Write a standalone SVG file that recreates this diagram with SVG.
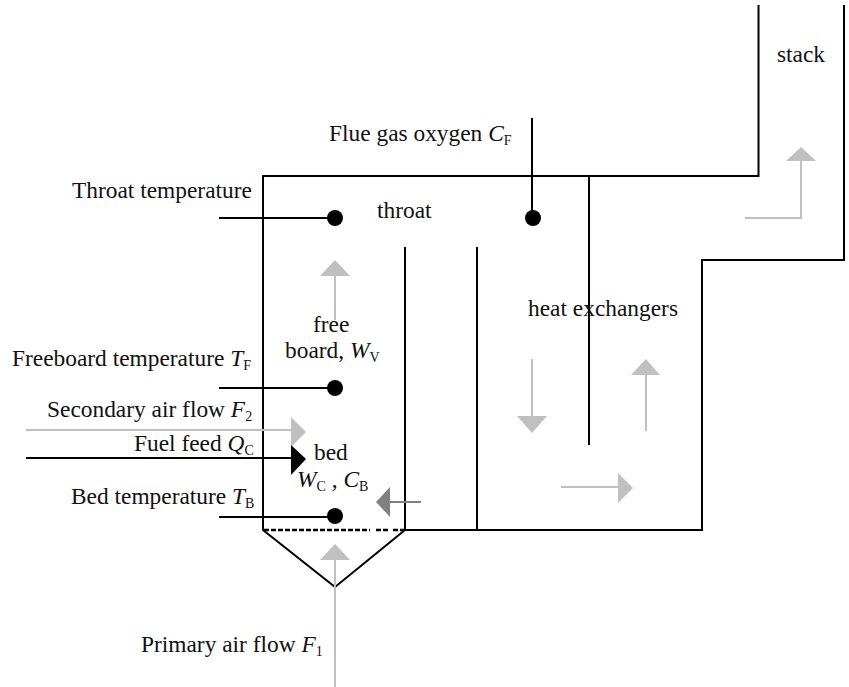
<svg xmlns="http://www.w3.org/2000/svg" width="849" height="687" viewBox="0 0 849 687">
<style>
text{font-family:"Liberation Serif","Times New Roman",serif;font-size:23.400px;fill:#111}
.s{font-size:14px}
.i{font-style:italic}
.w{fill:none;stroke:#000;stroke-width:2}
.d{fill:none;stroke:#000;stroke-width:2.500;stroke-dasharray:5 2}
.g{fill:none;stroke:#c0c0c0;stroke-width:2}
.h{fill:#c0c0c0}
</style>
<rect width="849" height="687" fill="#fff"/>
<g id="furnace">
<path class="w" d="M758.500 5V176H263V530L335 587L405 530"/>
<path class="w" d="M844 5V260H702V530H405V247"/>
<path class="w" d="M477 247V530M589 176V445"/>
<path class="d" d="M264 530H370M376 530H390M393 530H405"/>
</g>
<g id="connectors">
<path class="w" d="M219 218H335M219 388H335M219 517H335M532 118V218M26 458H292"/>
<path class="g" d="M26 430H292M335 320V276M335 687V560M745 218H801V161M532 359V417M646 431V375M561 487H619"/>
<path fill="none" stroke="#808080" stroke-width="2" d="M421 502H390"/>
<g class="h">
<path d="M320 276L335 260L350 276Z"/>
<path d="M320 560L335 544L350 560Z"/>
<path d="M786 161L801 147L816 161Z"/>
<path d="M517 416H547L532 433Z"/>
<path d="M631 375L646 359L660 375Z"/>
<path d="M618 473L633 488L618 503Z"/>
<path d="M291 417L306 432L291 447Z"/>
</g>
<path d="M291 445L306 459L291 475Z"/>
<path fill="#808080" d="M390 487L376 502L390 517Z"/>
</g>
<g id="sensor-throat"><circle cx="335" cy="218" r="8"/><text x="72" y="198">Throat temperature</text></g>
<g id="sensor-freeboard"><circle cx="335" cy="388" r="8"/><text x="12" y="366">Freeboard temperature <tspan class="i">T</tspan><tspan class="s" dy="4">F</tspan></text></g>
<g id="sensor-bed"><circle cx="335" cy="516" r="8"/><text x="71" y="504">Bed temperature <tspan class="i">T</tspan><tspan class="s" dy="4">B</tspan></text></g>
<g id="sensor-flue"><circle cx="533" cy="218" r="8"/><text x="329" y="141">Flue gas oxygen <tspan class="i">C</tspan><tspan class="s" dy="4">F</tspan></text></g>
<g id="label-secondary"><text x="47" y="417">Secondary air flow <tspan class="i">F</tspan><tspan class="s" dy="4">2</tspan></text></g>
<g id="label-fuel"><text x="134" y="451">Fuel feed <tspan class="i">Q</tspan><tspan class="s" dy="4">C</tspan></text></g>
<g id="label-primary"><text x="141" y="652">Primary air flow <tspan class="i">F</tspan><tspan class="s" dy="4">1</tspan></text></g>
<g id="label-throat"><text x="377" y="218">throat</text></g>
<g id="label-free"><text x="313" y="332">free</text><text x="285" y="358">board, <tspan class="i">W</tspan><tspan class="s" dy="4">V</tspan></text></g>
<g id="label-bed"><text x="314" y="460">bed</text><text x="297" y="487" class="i">W<tspan class="s" style="font-style:normal" dy="4">C</tspan><tspan style="font-style:normal" dy="-4"> , </tspan>C<tspan class="s" style="font-style:normal" dy="4">B</tspan></text></g>
<g id="label-hx"><text x="528" y="316">heat exchangers</text></g>
<g id="label-stack"><text x="777" y="62">stack</text></g>
</svg>
